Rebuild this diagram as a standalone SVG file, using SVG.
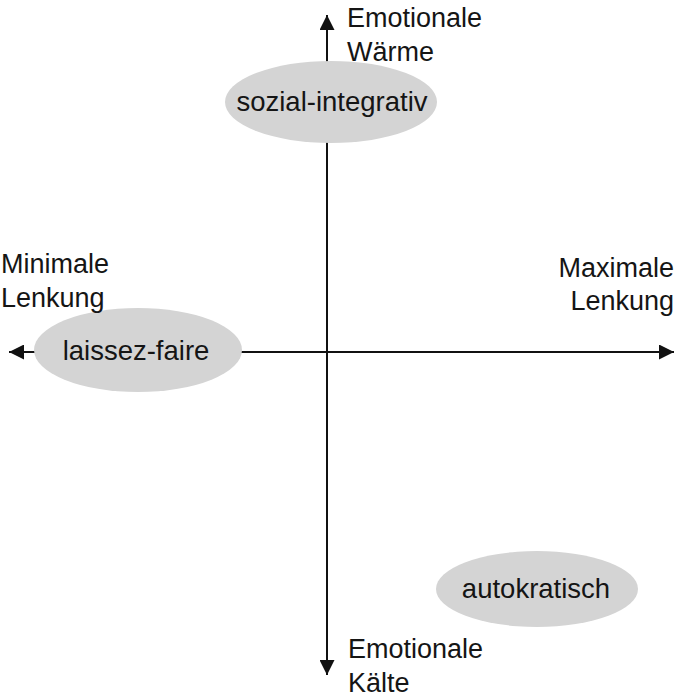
<svg xmlns="http://www.w3.org/2000/svg" width="685" height="699" viewBox="0 0 685 699">
  <style>
    .axis { stroke: #111; stroke-width: 2; fill: none; }
    .node { fill: #d4d4d4; stroke: none; }
    text { font-family: "Liberation Sans", Arial, sans-serif; font-size: 27px; fill: #151515; }
    .n { font-size: 27.5px; text-anchor: middle; }
    .r { text-anchor: end; }
  </style>
  <defs>
    <marker id="ah" viewBox="0 0 15 15" refX="15" refY="7.5" markerWidth="15" markerHeight="15" markerUnits="userSpaceOnUse" orient="auto">
      <path d="M0,0 L15,7.5 L0,15 Z" fill="#111"/>
    </marker>
  </defs>
  <g id="connectors">
    <line class="axis" x1="327" y1="352" x2="327" y2="15" marker-end="url(#ah)"/>
    <line class="axis" x1="327" y1="352" x2="327" y2="675" marker-end="url(#ah)"/>
    <line class="axis" x1="327" y1="352" x2="9" y2="352" marker-end="url(#ah)"/>
    <line class="axis" x1="327" y1="352" x2="674" y2="352" marker-end="url(#ah)"/>
  </g>
  <g id="sozial-integrativ">
    <ellipse class="node" cx="331" cy="102" rx="106" ry="41"/>
    <text class="n" x="332" y="111">sozial-integrativ</text>
  </g>
  <g id="laissez-faire">
    <ellipse class="node" cx="138" cy="350" rx="104" ry="42"/>
    <text class="n" x="136" y="360">laissez-faire</text>
  </g>
  <g id="autokratisch">
    <ellipse class="node" cx="537" cy="589" rx="101" ry="38"/>
    <text class="n" x="536" y="598">autokratisch</text>
  </g>
  <g id="label-top">
    <text x="347" y="27">Emotionale</text>
    <text x="347" y="61">Wärme</text>
  </g>
  <g id="label-bottom">
    <text x="348" y="658">Emotionale</text>
    <text x="348" y="692">Kälte</text>
  </g>
  <g id="label-left">
    <text x="1" y="273">Minimale</text>
    <text x="1" y="307">Lenkung</text>
  </g>
  <g id="label-right">
    <text class="r" x="674" y="277">Maximale</text>
    <text class="r" x="674" y="310">Lenkung</text>
  </g>
</svg>
